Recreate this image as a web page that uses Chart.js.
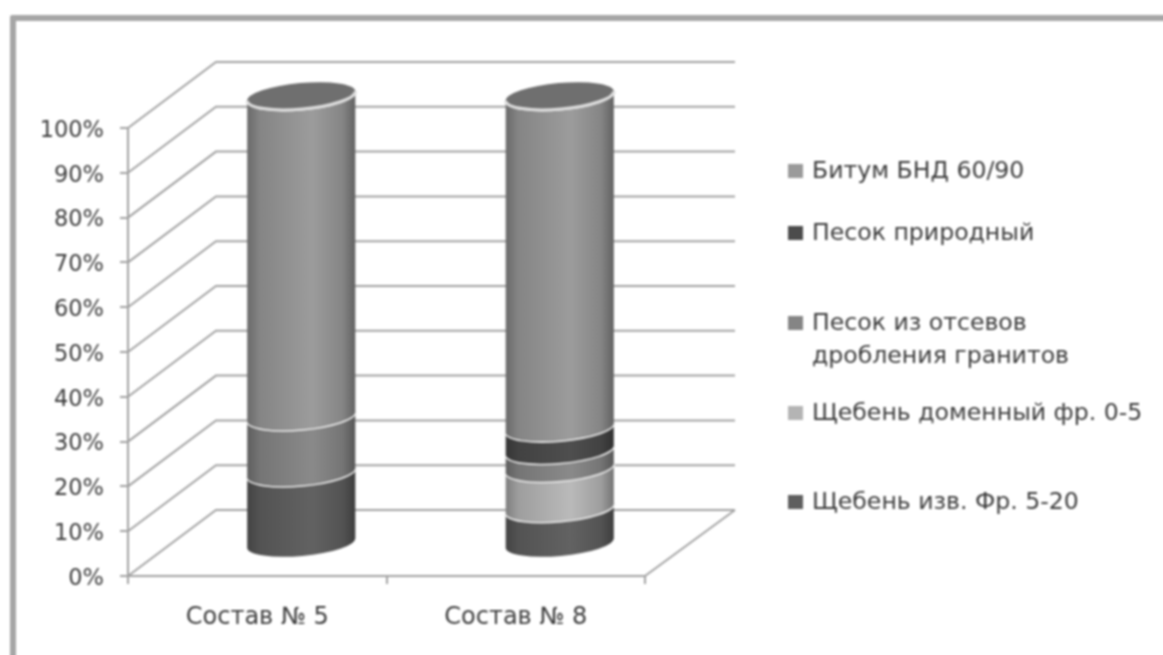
<!DOCTYPE html>
<html lang="ru">
<head>
<meta charset="utf-8">
<title>Состав</title>
<script src="https://cdn.jsdelivr.net/npm/chart.js@4"></script>
<style>
  html, body { margin: 0; padding: 0; background: #fff; overflow: hidden; }
  #wrap { position: relative; width: 1163px; height: 655px; filter: blur(0.9px); }
  #frame { position: absolute; left: 10px; top: 15px; right: -10px; bottom: -10px;
           border-left: 6px solid #a6a6a6; border-top: 6px solid #a6a6a6; border-top-left-radius: 3px; }
  canvas { position: absolute; left: 0; top: 0; }
</style>
</head>
<body>
<div id="wrap">
  <div id="frame"></div>
  <canvas id="myChart" width="1163" height="655"></canvas>
</div>
<script>
// data
const categories = ['Состав № 5', 'Состав № 8'];
const crushedLime = [16, 8];
const crushedSlag = [0, 9];
const graniteSand = [12.5, 4];
const naturalSand = [0, 5];
const bitumen = [71.5, 74];
const yTicks = ['0%', '10%', '20%', '30%', '40%', '50%', '60%', '70%', '80%', '90%', '100%'];

// legend text, top to bottom (reverse of the stack)
const legendLines = [
  ['Битум БНД 60/90'],
  ['Песок природный'],
  ['Песок из отсевов', 'дробления гранитов'],
  ['Щебень доменный фр. 0-5'],
  ['Щебень изв. Фр. 5-20']
];
const legendY = [172, 234, 324, 414, 503];

const FONT = '"DejaVu Sans", sans-serif';
const TEXT_COLOR = '#3c3c3c';
const GRID_COLOR = '#a2a2a2';
const DEPTH_X = 88;
const DEPTH_Y = 66;
const TILT = -0.09;
const ELLIPSE_RY = 13;

// darken the cylinder towards its edges
function cylinderGradient(ctx, left, right, rgb) {
  const g = ctx.createLinearGradient(left, 0, right, 0);
  const shade = function (k) {
    return 'rgb(' + rgb.map(function (c) { return Math.round(c * k); }).join(',') + ')';
  };
  g.addColorStop(0, shade(0.68));
  g.addColorStop(0.12, shade(0.85));
  g.addColorStop(0.6, shade(1));
  g.addColorStop(0.88, shade(0.85));
  g.addColorStop(1, shade(0.62));
  return g;
}

const walls3d = {
  id: 'walls3d',
  beforeDatasetsDraw(chart) {
    const ctx = chart.ctx;
    const y = chart.scales.y;
    const a = chart.chartArea;
    ctx.save();
    ctx.strokeStyle = GRID_COLOR;
    ctx.lineWidth = 2;
    yTicks.forEach(function (t, i) {
      const py = y.getPixelForValue(i * 10);
      ctx.beginPath();
      ctx.moveTo(a.left, py);
      ctx.lineTo(a.left + DEPTH_X, py - DEPTH_Y);
      ctx.lineTo(a.right + DEPTH_X + 2, py - DEPTH_Y);
      ctx.stroke();
    });
    // floor
    ctx.beginPath();
    ctx.moveTo(a.right, a.bottom);
    ctx.lineTo(a.right + DEPTH_X + 2, a.bottom - DEPTH_Y);
    ctx.stroke();
    ctx.restore();
  }
};

const cylinders = {
  id: 'cylinders',
  // native rects are skipped, the bar elements only give the geometry
  beforeDatasetDraw() {
    return false;
  },
  afterDatasetsDraw(chart) {
    const ctx = chart.ctx;
    ctx.save();
    categories.forEach(function (c, idx) {
      let topEl = null;
      chart.data.datasets.forEach(function (ds, i) {
        const el = chart.getDatasetMeta(i).data[idx];
        if (!ds.data[idx]) return;
        const cx = el.x + DEPTH_X / 2;
        const rx = el.width / 2;
        const yTop = el.y - DEPTH_Y / 2 + 1;
        const yBase = el.base - DEPTH_Y / 2 + 1;

        ctx.beginPath();
        ctx.ellipse(cx, yBase, rx, ELLIPSE_RY, TILT, Math.PI, 0, true);
        ctx.ellipse(cx, yTop, rx, ELLIPSE_RY, TILT, 0, Math.PI, false);
        ctx.closePath();
        ctx.fillStyle = cylinderGradient(ctx, cx - rx, cx + rx, ds.shade);
        ctx.fill();

        // light seam on top of each band
        ctx.beginPath();
        ctx.ellipse(cx, yTop, rx, ELLIPSE_RY, TILT, 0, Math.PI, false);
        ctx.strokeStyle = '#eeeeee';
        ctx.lineWidth = 3;
        ctx.stroke();
        topEl = { cx: cx, rx: rx, y: yTop };
      });
      if (topEl) {
        ctx.beginPath();
        ctx.ellipse(topEl.cx, topEl.y, topEl.rx, ELLIPSE_RY, TILT, 0, Math.PI * 2);
        ctx.fillStyle = '#6f6f6f';
        ctx.fill();
        ctx.beginPath();
        ctx.ellipse(topEl.cx, topEl.y, topEl.rx, ELLIPSE_RY, TILT, 0, Math.PI, false);
        ctx.strokeStyle = '#dddddd';
        ctx.lineWidth = 3;
        ctx.stroke();
      }
    });
    ctx.restore();
  }
};

// the reference legend has uneven rows, so it is drawn here
const sideLegend = {
  id: 'sideLegend',
  afterDraw(chart) {
    const ctx = chart.ctx;
    const datasets = chart.data.datasets;
    ctx.save();
    ctx.font = '23.6px ' + FONT;
    ctx.textBaseline = 'middle';
    legendLines.forEach(function (lines, i) {
      const ds = datasets[datasets.length - 1 - i];
      ctx.fillStyle = ds.backgroundColor;
      ctx.fillRect(788, legendY[i] - 8, 15, 14);
      ctx.fillStyle = TEXT_COLOR;
      lines.forEach(function (line, j) {
        ctx.fillText(line, 812, legendY[i] + j * 33);
      });
    });
    ctx.restore();
  }
};

new Chart(document.getElementById('myChart').getContext('2d'), {
  type: 'bar',
  data: {
    labels: categories,
    datasets: [
      { label: 'Щебень изв. Фр. 5-20', data: crushedLime, backgroundColor: '#5f5f5f', shade: [98, 98, 98] },
      { label: 'Щебень доменный фр. 0-5', data: crushedSlag, backgroundColor: '#b4b4b4', shade: [186, 186, 186] },
      { label: 'Песок из отсевов дробления гранитов', data: graniteSand, backgroundColor: '#858585', shade: [138, 138, 138] },
      { label: 'Песок природный', data: naturalSand, backgroundColor: '#4c4c4c', shade: [78, 78, 78] },
      { label: 'Битум БНД 60/90', data: bitumen, backgroundColor: '#9a9a9a', shade: [156, 156, 156] }
    ].map(function (ds) {
      return Object.assign(ds, { borderWidth: 0, barPercentage: 0.42, categoryPercentage: 1 });
    })
  },
  options: {
    responsive: false,
    animation: false,
    layout: { padding: { left: 0, top: 128, right: 518, bottom: 0 } },
    plugins: {
      legend: { display: false },
      tooltip: { enabled: false }
    },
    scales: {
      x: {
        stacked: true,
        afterFit: function (s) { s.height = 79; },
        grid: { drawOnChartArea: false, color: GRID_COLOR, lineWidth: 2, tickLength: 8 },
        border: { color: GRID_COLOR, width: 2 },
        ticks: { color: TEXT_COLOR, padding: 19, font: { family: FONT, size: 24 } }
      },
      y: {
        stacked: true,
        min: 0,
        max: 100,
        afterFit: function (s) { s.width = 128; },
        grid: { drawOnChartArea: false, color: GRID_COLOR, lineWidth: 2, tickLength: 8 },
        border: { color: GRID_COLOR, width: 2 },
        ticks: {
          stepSize: 10,
          color: TEXT_COLOR,
          padding: 16,
          labelOffset: 3,
          font: { family: FONT, size: 22.5 },
          callback: function (v) { return yTicks[v / 10]; }
        }
      }
    }
  },
  plugins: [walls3d, cylinders, sideLegend]
});
</script>
</body>
</html>
